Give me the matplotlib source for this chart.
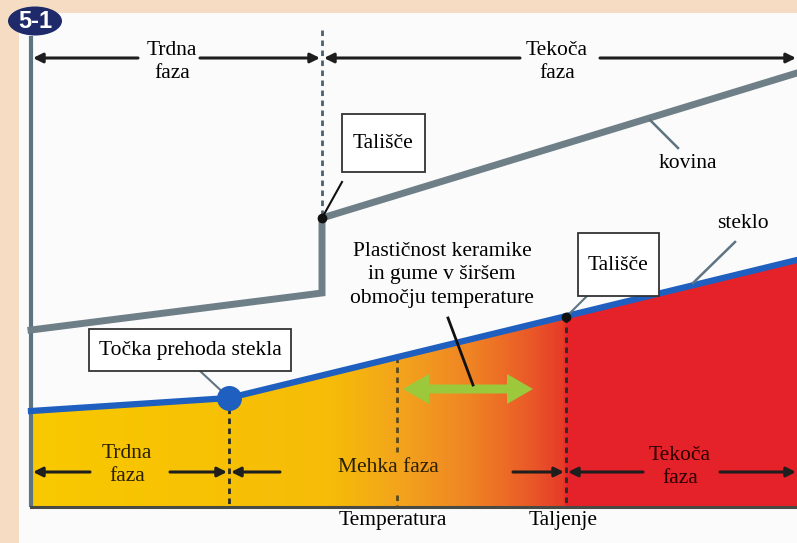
import numpy as np
import matplotlib
matplotlib.use("Agg")
import matplotlib.pyplot as plt
from matplotlib.patches import Rectangle, Ellipse, Polygon
from matplotlib.colors import LinearSegmentedColormap

# ---- data (diagram coordinates, pixel-like units) ----
kovina_x = [31, 322, 322, 797]
kovina_y = [330, 293, 218, 73]
steklo_x = [31, 229, 797]
steklo_y = [411, 398, 260]
tg_point = (229, 398)          # točka prehoda stekla
melt_metal = (322, 218)        # tališče kovine
melt_glass = (566, 317)        # tališče stekla
soft_x = 397                   # začetek mehke faze
base_y = 507
grad_stops = [(31, '#F9C900'), (330, '#F6BC08'), (400, '#F3A41C'),
              (470, '#EF8424'), (530, '#EA5A28'), (565, '#E63A28'),
              (567, '#E52229'), (797, '#E52229')]

fig = plt.figure(figsize=(7.97, 5.43), dpi=100)
fig.patch.set_facecolor('#F6DCC2')
ax = fig.add_axes([0, 0, 1, 1])
ax.set_xlim(0, 797)
ax.set_ylim(543, 0)
ax.axis('off')

ser = ['Liberation Serif', 'DejaVu Serif']

# inner panel
ax.add_patch(Rectangle((19, 13), 780, 535, fc='#FBFBFB', ec='none', zorder=0))

# gradient fill under glass curve
xs = np.array([s[0] for s in grad_stops], float)
cols = [s[1] for s in grad_stops]
pos = (xs - xs[0]) / (xs[-1] - xs[0])
cmap = LinearSegmentedColormap.from_list('g', list(zip(pos, cols)))
grad = np.linspace(0, 1, 800).reshape(1, -1)
im = ax.imshow(grad, cmap=cmap, extent=(31, 797, base_y, 250), aspect='auto', zorder=1)
poly = Polygon(list(zip(steklo_x, steklo_y)) + [(797, base_y), (31, base_y)],
               closed=True, transform=ax.transData)
im.set_clip_path(poly)

# axes lines
ax.plot([31, 31], [36, base_y], color='#5E7481', lw=3, zorder=3, solid_capstyle='butt')
ax.plot([31, 797], [base_y, base_y], color='#4A4A44', lw=2.2, zorder=3)

# metal curve
ax.plot(kovina_x, kovina_y, color='#6F7F88', lw=5, zorder=4, solid_joinstyle='miter')
# glass curve
ax.plot(steklo_x, steklo_y, color='#1F5FC0', lw=4.5, zorder=4)

# dashed verticals
dash = dict(color='#2A2A2A', lw=2, ls=(0, (2, 1.6)), zorder=3)
ax.plot([melt_metal[0]] * 2, [30, melt_metal[1]], color='#4A6272', lw=2, ls=(0, (2, 1.6)), zorder=3)
ax.plot([tg_point[0]] * 2, [tg_point[1], base_y], **dash)
ax.plot([melt_glass[0]] * 2, [melt_glass[1], base_y], **dash)
y_soft = np.interp(soft_x, steklo_x, steklo_y)
ax.plot([soft_x] * 2, [y_soft, 452], color='#5A4A20', lw=2, ls=(0, (2, 1.6)), zorder=3)
ax.plot([soft_x] * 2, [495, base_y], color='#5A4A20', lw=2, ls=(0, (2, 1.6)), zorder=3)

# points
ax.plot(*tg_point, 'o', color='#1F5FC0', ms=17, zorder=6)
ax.plot(*melt_metal, 'o', color='#111111', ms=6, zorder=6)
ax.plot(*melt_glass, 'o', color='#111111', ms=6, zorder=6)

def arr(tail, head, color='#1E1E1E'):
    ax.annotate('', xy=head, xytext=tail,
                arrowprops=dict(arrowstyle='-|>', color=color, lw=2.2,
                                mutation_scale=14, shrinkA=0, shrinkB=0), zorder=5)

# top arrows
arr((138, 58), (33, 58))
arr((200, 58), (320, 58))
arr((520, 58), (324, 58))
arr((600, 58), (796, 58))
# bottom arrows
arr((90, 472), (33, 472))
arr((170, 472), (227, 472))
arr((280, 472), (231, 472))
arr((513, 472), (564, 472))
arr((643, 472), (568, 472))
arr((720, 472), (796, 472))

# text
fs = 15.5
ls = 1.3
ax.text(172, 62, 'Trdna\nfaza', ha='center', va='center', fontsize=fs, family=ser, linespacing=ls, zorder=7)
ax.text(557, 62, 'Tekoča\nfaza', ha='center', va='center', fontsize=fs, family=ser, linespacing=ls, zorder=7)
ax.text(127, 465, 'Trdna\nfaza', ha='center', va='center', fontsize=fs, family=ser, color='#2A2000', linespacing=ls, zorder=7)
ax.text(388, 468, 'Mehka faza', ha='center', va='center', fontsize=fs, family=ser, color='#2A2000', zorder=7)
ax.text(680, 467, 'Tekoča\nfaza', ha='center', va='center', fontsize=fs, family=ser, color='#2A0000', linespacing=ls, zorder=7)
ax.text(393, 521, 'Temperatura', ha='center', va='center', fontsize=fs, family=ser, zorder=7)
ax.text(563, 521, 'Taljenje', ha='center', va='center', fontsize=fs, family=ser, zorder=7)
ax.text(688, 163, 'kovina', ha='center', va='center', fontsize=fs, family=ser, zorder=7)
ax.text(743, 223, 'steklo', ha='center', va='center', fontsize=fs, family=ser, zorder=7)
ax.text(442, 275, 'Plastičnost keramike\nin gume v širšem\nobmočju temperature', ha='center', va='center',
        fontsize=fs, family=ser, linespacing=ls, zorder=7)

# pointer lines
ax.plot([650, 678], [120, 148], color='#5E7481', lw=1.8, zorder=5)
ax.plot([735, 693], [242, 283], color='#5E7481', lw=1.8, zorder=5)
ax.plot([448, 473], [318, 385], color='#111111', lw=2, zorder=7)
ax.plot([melt_metal[0], 342], [melt_metal[1], 182], color='#111111', lw=1.5, zorder=5)
ax.plot([melt_glass[0], 587], [melt_glass[1], 296], color='#5E7481', lw=1.5, zorder=5)
ax.plot([tg_point[0], 200], [tg_point[1], 371], color='#5E7481', lw=1.5, zorder=5)

# boxes
def box(x0, y0, x1, y1, label):
    ax.add_patch(Rectangle((x0, y0), x1 - x0, y1 - y0, fc='white', ec='#333333', lw=1.3, zorder=8))
    ax.text((x0 + x1) / 2, (y0 + y1) / 2 + 1, label, ha='center', va='center', fontsize=fs,
            family=ser, zorder=9)

box(342, 114, 425, 172, 'Tališče')
box(578, 233, 659, 296, 'Tališče')
box(89, 329, 291, 371, 'Točka prehoda stekla')

# green double arrow
mid = 468
ax.arrow(mid, 389, -(mid - 403), 0, width=9, head_width=30, head_length=26,
         length_includes_head=True, fc='#9CC93C', ec='none', zorder=6)
ax.arrow(mid, 389, 533 - mid, 0, width=9, head_width=30, head_length=26,
         length_includes_head=True, fc='#9CC93C', ec='none', zorder=6)

# badge
ax.add_patch(Ellipse((35, 21), 54, 29, fc='#1E2A6A', ec='none', zorder=9))
ax.text(35, 22, '5-1', ha='center', va='center', fontsize=17, fontweight='bold',
        color='white', family=['Liberation Sans', 'DejaVu Sans'], zorder=10)

fig.savefig('out.png', dpi=100, facecolor=fig.get_facecolor())
